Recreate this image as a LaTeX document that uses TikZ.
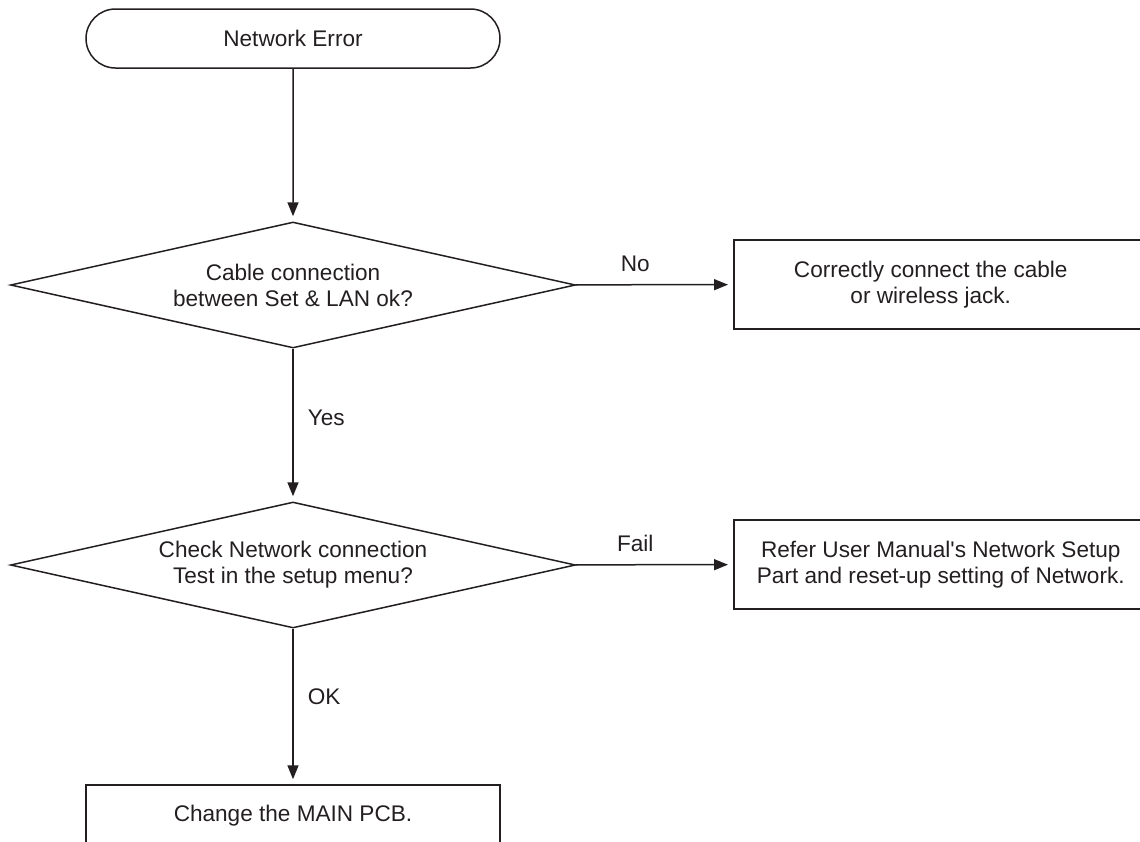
\documentclass[tikz,border=0pt]{standalone}
\usepackage{fontspec}
\setmainfont{Liberation Sans}[Ligatures=TeXOff]
\usetikzlibrary{arrows.meta,positioning,shapes.geometric,shapes.misc}
\definecolor{clinea}{HTML}{231F20}
\newcommand{\letra}{\fontsize{12.85}{14.8}\selectfont}
\tikzset{
  caja/.style={draw=clinea,line width=0.03cm,text=clinea,align=center,font=\letra,
               minimum width=8.28cm,inner sep=0pt},
  cajad/.style={caja,anchor=west,minimum width=8.5cm,minimum height=1.78cm},
  inicio/.style={caja,rounded rectangle,minimum height=1.18cm},
  pregunta/.style={caja,diamond,aspect=4.5,minimum width=11.3cm,minimum height=2.52cm},
  flecha/.style={-{Triangle[length=0.28cm,width=0.22cm]},draw=clinea,line width=0.03cm,
                 shorten >=0.1cm},
  et/.style={font=\letra,text=clinea,inner sep=0pt},
}

\begin{document}
\begin{tikzpicture}[x=1cm,y=1cm]
\useasboundingbox (0,0) rectangle (22.8,-16.82);

\node[inicio] (ini) at (5.86,-0.77) {Network Error};

\node[pregunta] (cable) at (5.86,-5.7)
  {Cable connection\\between Set \& LAN ok?};
\node[cajad] (conectar) at (14.66,-5.69)
  {Correctly connect the cable\hspace*{0.62cm}\\or wireless jack.\hspace*{0.62cm}};

\node[pregunta] (prueba) at (5.86,-11.3)
  {Check Network connection\\Test in the setup menu?};
\node[cajad] (manual) at (14.66,-11.29)
  {Refer User Manual's Network Setup\hspace*{0.22cm}\\Part and reset-up setting of Network.\hspace*{0.22cm}};

\node[caja,minimum height=1.24cm] (placa) at (5.86,-16.32) {Change the MAIN PCB.};

\draw[flecha] (ini) -- (cable);
\draw[flecha] (cable) -- node[et,above=0.24cm,pos=0.38] {No} (conectar);
\draw[flecha] (cable) -- node[et,right=0.28cm,pos=0.45] {Yes} (prueba);
\draw[flecha] (prueba) -- node[et,above=0.24cm,pos=0.38] {Fail} (manual);
\draw[flecha] (prueba) -- node[et,right=0.28cm,pos=0.44] {OK} (placa);

\end{tikzpicture}
\end{document}
